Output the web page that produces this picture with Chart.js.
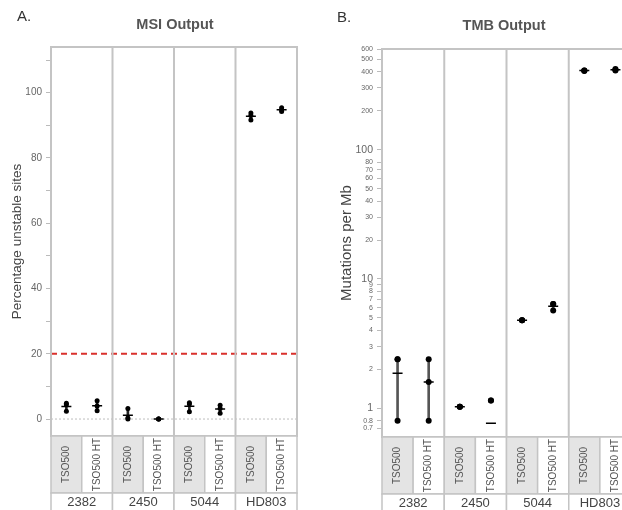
<!DOCTYPE html>
<html>
<head>
<meta charset="utf-8">
<script src="https://cdn.jsdelivr.net/npm/chart.js@4/dist/chart.umd.min.js"></script>
<style>
  html, body { margin: 0; padding: 0; background: #fff; }
  body { width: 622px; height: 510px; overflow: hidden; position: relative;
         font-family: "Liberation Sans", Helvetica, Arial, sans-serif; }
  .panel { position: absolute; top: 0; height: 510px; }
  .panel canvas { display: block; }
  .tag { position: absolute; font-size: 15px; color: #333; }
  .title { position: absolute; font-size: 14.5px; font-weight: bold; color: #555;
           transform: translateX(-50%); white-space: nowrap; }
</style>
</head>
<body>
<div class="panel" style="left:0; width:310px;"><canvas id="msi-chart" width="310" height="510"></canvas></div>
<div class="panel" style="left:310px; width:330px;"><canvas id="tmb-chart" width="330" height="510"></canvas></div>
<div class="tag" style="left:17px; top:7px;">A.</div>
<div class="tag" style="left:337px; top:8px;">B.</div>
<div class="title" style="left:175px; top:16px;">MSI Output</div>
<div class="title" style="left:504px; top:17px;">TMB Output</div>
<script>
// samples and assay versions
const samples = ['2382', '2450', '5044', 'HD803'];
const platforms = ['TSO500', 'TSO500 HT'];

// replicate values per sample
const msiTSO500 = [[2.4, 4.4, 4.8], [0, 0.3, 3.2], [2.2, 4.6, 5.0], [91.6, 93.0, 93.8]];
const msiHT     = [[2.5, 4.0, 5.6], [0, 0, 0], [1.8, 3.2, 4.2], [94.2, 94.8, 95.4]];
const tmbTSO500 = [[0.8, 2.4, 2.4], [1.03, 1.03, 1.03], [4.8, 4.8, 4.8], [405, 410, 410]];
const tmbHT     = [[0.8, 1.6, 2.4], [0, 1.15, 1.15], [5.7, 6.4, 6.4], [410, 415, 420]];

const msiThreshold = 20;

// tick values
const msiTicks = [0, 10, 20, 30, 40, 50, 60, 70, 80, 90, 100, 110];
const msiTickLabels = [0, 20, 40, 60, 80, 100];
const tmbTicks = [0.7, 0.8, 1, 2, 3, 4, 5, 6, 7, 8, 9, 10, 20, 30, 40, 50, 60, 70, 80, 100, 200, 300, 400, 500, 600];
const tmbBigTicks = [1, 10, 100];

const FONT = '"Liberation Sans", Helvetica, Arial, sans-serif';
const GRID = '#c4c4c4';

// one label per sub column: sample|platform
const columns = [];
samples.forEach(s => platforms.forEach(p => columns.push(s + '|' + p)));

function buildDatasets(tso, ht, logScale, dotSize) {
    const pts = [], means = [], ranges = [];
    samples.forEach((s, i) => {
        [tso[i], ht[i]].forEach((vals, j) => {
            const key = s + '|' + platforms[j];
            // zeros can't sit on a log axis, but they still count in the mean
            const shown = logScale ? vals.filter(v => v > 0) : vals;
            shown.forEach(v => pts.push({ x: key, y: v }));
            const mean = vals.reduce((a, b) => a + b, 0) / vals.length;
            if (!logScale || mean > 0) means.push({ x: key, y: mean });
            ranges.push(shown.length ? [Math.min(...shown), Math.max(...shown)] : null);
        });
    });
    return [
        { type: 'line', data: pts, showLine: false, pointRadius: dotSize, pointHoverRadius: dotSize,
          pointBackgroundColor: '#000', pointBorderWidth: 0, order: 0 },
        { type: 'line', data: means, showLine: false, pointStyle: 'line', pointRadius: 5,
          pointBorderColor: '#000', pointBorderWidth: 1.5, order: 1 },
        { type: 'bar', data: ranges, barThickness: 2, backgroundColor: logScale ? '#555' : '#222', order: 2 }
    ];
}

const framePlugin = {
    id: 'frame',
    beforeDatasetsDraw(chart, args, opts) {
        const { ctx, chartArea: a, scales } = chart;
        ctx.save();
        (opts.refLines || []).forEach(r => {
            const y = scales.y.getPixelForValue(r.value);
            ctx.strokeStyle = r.color;
            ctx.lineWidth = r.width;
            ctx.setLineDash(r.dash);
            ctx.beginPath();
            ctx.moveTo(a.left, y);
            ctx.lineTo(a.right, y);
            ctx.stroke();
        });
        ctx.restore();
    },
    afterDraw(chart) {
        const { ctx, chartArea: a } = chart;
        const w = a.right - a.left;
        const colW = w / columns.length;
        const rowH = 57, groupH = 20;
        ctx.save();
        ctx.strokeStyle = GRID;
        ctx.lineWidth = 2;
        ctx.strokeRect(a.left, a.top, w, a.bottom - a.top);
        for (let g = 1; g < samples.length; g++) {
            const x = a.left + g * w / samples.length;
            ctx.beginPath();
            ctx.moveTo(x, a.top);
            ctx.lineTo(x, a.bottom);
            ctx.stroke();
        }
        // platform boxes
        ctx.lineWidth = 1.5;
        columns.forEach((c, i) => {
            const x0 = a.left + i * colW;
            ctx.fillStyle = i % 2 === 0 ? '#e4e4e4' : '#fff';
            ctx.fillRect(x0, a.bottom, colW, rowH);
            ctx.strokeRect(x0, a.bottom, colW, rowH);
            ctx.save();
            ctx.translate(x0 + colW / 2, a.bottom + rowH / 2);
            ctx.rotate(-Math.PI / 2);
            ctx.fillStyle = '#555';
            ctx.font = '10px ' + FONT;
            ctx.textAlign = 'center';
            ctx.textBaseline = 'middle';
            ctx.fillText(c.split('|')[1], 0, 0);
            ctx.restore();
        });
        // sample boxes
        samples.forEach((s, g) => {
            const x0 = a.left + g * w / samples.length;
            ctx.fillStyle = '#fff';
            ctx.fillRect(x0, a.bottom + rowH, w / samples.length, groupH);
            ctx.strokeRect(x0, a.bottom + rowH, w / samples.length, groupH);
            ctx.fillStyle = '#444';
            ctx.font = '13px ' + FONT;
            ctx.textAlign = 'center';
            ctx.textBaseline = 'middle';
            ctx.fillText(s, x0 + w / samples.length / 2, a.bottom + rowH + 9);
        });
        ctx.restore();
    }
};

const xScale = { type: 'category', labels: columns, offset: true, display: false };

new Chart(document.getElementById('msi-chart'), {
    type: 'bar',
    data: { labels: columns, datasets: buildDatasets(msiTSO500, msiHT, false, 2.5) },
    plugins: [framePlugin],
    options: {
        responsive: false,
        animation: false,
        layout: { padding: { left: 0, right: 13, top: 47, bottom: 74 } },
        plugins: {
            legend: { display: false },
            tooltip: { enabled: false },
            frame: { refLines: [
                { value: 0, color: '#bdbdbd', width: 1, dash: [2, 2] },
                { value: msiThreshold, color: '#d9302c', width: 2, dash: [6, 4] }
            ] }
        },
        scales: {
            x: xScale,
            y: {
                min: -5.2, max: 114,
                afterFit(scale) { scale.width = 51; },
                afterBuildTicks(scale) { scale.ticks = msiTicks.map(v => ({ value: v })); },
                grid: { drawOnChartArea: false, tickLength: 5, color: '#bbb' },
                border: { display: false },
                ticks: {
                    padding: 4, color: '#666', font: { size: 10, family: FONT },
                    callback: v => msiTickLabels.includes(v) ? String(v) : ''
                },
                title: { display: true, text: 'Percentage unstable sites', color: '#444',
                         font: { size: 13.5, family: FONT }, padding: { top: 9, bottom: 0 } }
            }
        }
    }
});

new Chart(document.getElementById('tmb-chart'), {
    type: 'bar',
    data: { labels: columns, datasets: buildDatasets(tmbTSO500, tmbHT, true, 3) },
    plugins: [framePlugin],
    options: {
        responsive: false,
        animation: false,
        layout: { padding: { left: 0, right: 9, top: 49, bottom: 73 } },
        plugins: { legend: { display: false }, tooltip: { enabled: false }, frame: { refLines: [] } },
        scales: {
            x: xScale,
            y: {
                type: 'logarithmic',
                min: 0.643, max: 600,
                afterFit(scale) { scale.width = 72; },
                afterBuildTicks(scale) { scale.ticks = tmbTicks.map(v => ({ value: v })); },
                grid: { drawOnChartArea: false, tickLength: 5, color: '#bbb' },
                border: { display: false },
                ticks: {
                    padding: 4, color: '#666', autoSkip: false,
                    font: ctx => ({ size: tmbBigTicks.includes(ctx.tick && ctx.tick.value) ? 10.5 : 7, family: FONT }),
                    callback: v => String(v)
                },
                title: { display: true, text: 'Mutations per Mb', color: '#444',
                         font: { size: 15, family: FONT }, padding: { top: 28, bottom: 0 } }
            }
        }
    }
});
</script>
</body>
</html>
